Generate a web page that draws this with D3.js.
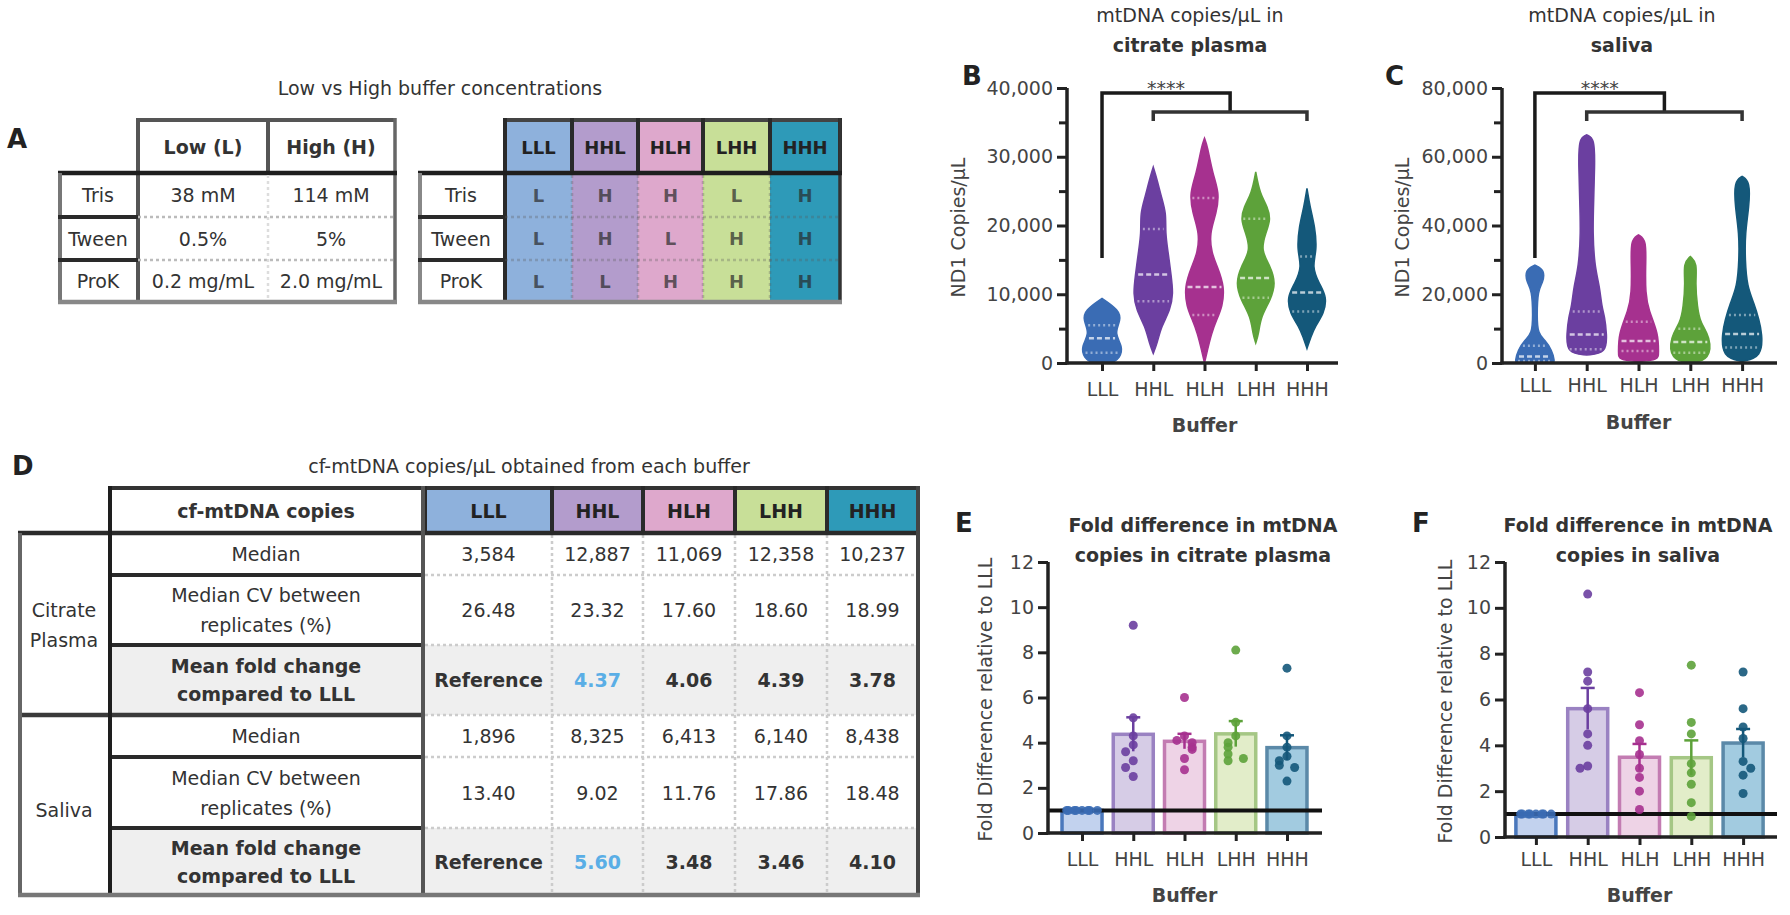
<!DOCTYPE html>
<html><head><meta charset="utf-8">
<script src="https://cdn.jsdelivr.net/npm/d3@7"></script>
<style>
body{margin:0;background:#fff}
svg{display:block}
text{font-family:"DejaVu Sans",sans-serif;fill:#333}
</style>
</head><body>
<svg id="fig" width="1790" height="915"></svg>
<script>
// ---------------- DATA ----------------
const buffers = ["LLL","HHL","HLH","LHH","HHH"];
const components = ["Tris","Tween","ProK"];
const lowConc = ["38 mM","0.5%","0.2 mg/mL"];
const highConc = ["114 mM","5%","2.0 mg/mL"];
const trisLevel = ["L","H","H","L","H"];
const tweenLevel = ["L","H","L","H","H"];
const prokLevel = ["L","L","H","H","H"];

const plasmaTicks = [0,10000,20000,30000,40000];
const plasmaMinor = [5000,15000,25000,35000];
const salivaTicks = [0,20000,40000,60000,80000];
const salivaMinor = [10000,30000,50000,70000];
const foldTicks = [0,2,4,6,8,10,12];

// violin outlines: [copies/µL, relative width]
const plasmaViolin = [
  [[0,0.5],[700,0.9],[2400,1.05],[4300,0.6],[6250,0.95],[7700,0.85],[9400,0]],
  [[1400,0],[2900,0.2],[5300,0.4],[7700,0.85],[10100,1.0],[12600,0.9],[16000,0.75],[18900,0.6],[21800,0.65],[24200,0.4],[26600,0.2],[28500,0]],
  [[0,0],[1900,0.15],[4300,0.35],[6250,0.6],[8200,0.9],[11100,1.0],[14000,0.65],[16000,0.35],[18900,0.25],[21800,0.6],[24700,0.75],[27600,0.4],[31500,0.15],[32700,0]],
  [[2900,0],[4300,0.15],[6700,0.25],[9200,0.75],[11600,1.0],[14000,0.75],[16400,0.25],[18900,0.5],[20800,0.75],[22700,0.6],[24700,0.2],[27800,0]],
  [[2100,0],[3800,0.2],[5300,0.4],[7200,0.85],[9600,1.0],[11600,0.6],[14000,0.25],[16400,0.5],[19800,0.4],[22700,0.15],[25400,0]]
];
const salivaViolin = [
  [[0,0.9],[400,1.0],[3800,0.85],[6700,0.5],[8600,0.15],[13500,0.1],[21300,0.15],[23200,0.4],[27100,0.5],[28500,0]],
  [[2300,0],[2800,1.0],[8600,1.0],[13500,0.9],[16400,0.75],[22200,0.65],[28100,0.4],[37800,0.3],[47500,0.35],[57200,0.4],[65400,0.4],[66400,0]],
  [[400,0],[900,1.0],[2800,1.0],[8600,1.0],[15400,0.5],[20300,0.35],[28100,0.35],[35800,0.4],[37300,0]],
  [[0,0],[900,1.0],[7700,1.0],[11600,0.5],[16400,0.35],[23200,0.25],[29000,0.35],[31000,0]],
  [[400,0],[1800,1.0],[8600,1.0],[12500,0.85],[17400,0.6],[22200,0.25],[30000,0.15],[37800,0.15],[45500,0.35],[52800,0.4],[54300,0]]
];
const plasmaMedian = [3584,12887,11069,12358,10237];
const plasmaQ1 = [1500,9000,7000,9500,7500];
const plasmaQ3 = [5500,19500,24000,21000,15500];
const salivaMedian = [1896,8325,6413,6140,8438];
const salivaQ1 = [600,4000,3500,3000,4500];
const salivaQ3 = [5000,15000,12000,10000,14000];
const plasmaCV = [26.48,23.32,17.60,18.60,18.99];
const salivaCV = [13.40,9.02,11.76,17.86,18.48];
const plasmaFold = [1,4.37,4.06,4.39,3.78];
const salivaFold = [1,5.60,3.48,3.46,4.10];
const plasmaFoldPoints = [
  [1,1,1,1,1,1,1,1],
  [9.2,5.1,4.3,3.9,3.6,3.2,2.9,2.5],
  [6.0,4.3,4.1,4.0,3.8,3.7,3.3,2.8],
  [8.1,4.9,4.3,4.0,3.8,3.5,3.2,3.3],
  [7.3,4.3,3.8,3.4,3.2,3.0,2.9,2.3]
];
const salivaFoldPoints = [
  [1,1,1,1,1,1,1,1],
  [10.6,7.2,6.8,5.6,4.5,4.0,3.1,3.0],
  [6.3,4.9,4.2,3.6,3.0,2.6,2.0,1.2],
  [7.5,5.0,4.5,3.2,2.8,2.3,1.5,0.9],
  [7.2,5.6,4.8,4.3,3.3,2.7,3.0,1.9]
];
const sigLabel = "****";

// ---------------- STYLE ----------------
const headerFill = ["#8eb1dc","#b39ccc","#dea8cc","#c8df98","#2e9ab8"];
const markColor  = ["#3a6cb4","#6b3fa0","#a6318f","#5da23a","#14587a"];
const barFill    = ["#c2d2ee","#d6cce6","#eed3e6","#e2edc9","#a2cbe0"];
const barStroke  = ["#4a78bc","#9a82c2","#c37cb2","#a5c785","#5b89a8"];
const FS = 19;

const svg = d3.select("#fig");
svg.append("rect").attr("width",1790).attr("height",915).attr("fill","#fff");

function ln(g,x1,y1,x2,y2,stroke,w,dash){
  const l=g.append("line").attr("x1",x1).attr("y1",y1).attr("x2",x2).attr("y2",y2)
    .attr("stroke",stroke).attr("stroke-width",w);
  if(dash) l.attr("stroke-dasharray",dash);
  return l;
}
function tx(g,x,y,s,o={}){
  return g.append("text").attr("x",x).attr("y",y).text(s)
    .attr("text-anchor",o.anchor||"middle")
    .attr("dominant-baseline",o.base||"central")
    .attr("font-size",o.size||FS)
    .attr("font-weight",o.bold?"bold":"normal")
    .style("fill",o.fill||"#333");
}
function letter(x,y,s){ tx(svg,x,y,s,{anchor:"start",base:"alphabetic",size:26,bold:true,fill:"#222"}); }

// ---------------- PANEL A ----------------
letter(7,148,"A");
tx(svg,440,88,"Low vs High buffer concentrations");
{
  const g=svg.append("g");
  const rowY=[173,217,260,302];
  // left table
  ln(g,138,120,395,120,"#555",4);
  ln(g,138,118,138,302,"#555",4);
  ln(g,268,120,268,173,"#555",4);
  ln(g,395,118,395,304,"#666",3.5);
  ln(g,58,173,397,173,"#1e1e1e",4.5);
  ln(g,60,173,60,302,"#777",4);
  [217,260].forEach(y=>{ ln(g,58,y,138,y,"#2a2a2a",4); ln(g,138,y,395,y,"#bbb",2.5,"3,3"); });
  ln(g,268,175,268,300,"#ddd",2.5,"3,3");
  ln(g,58,302,397,302,"#888",4.5);
  tx(g,203,147,"Low (L)",{bold:true});
  tx(g,331,147,"High (H)",{bold:true});
  components.forEach((c,i)=>{
    const cy=(rowY[i]+rowY[i+1])/2;
    tx(g,98,cy,c);
    tx(g,203,cy,lowConc[i]);
    tx(g,331,cy,highConc[i]);
  });
  // right table
  const edges=[505,572,638,703,770,840];
  const levels=[trisLevel,tweenLevel,prokLevel];
  buffers.forEach((b,j)=>{
    g.append("rect").attr("x",edges[j]).attr("y",120).attr("width",edges[j+1]-edges[j]).attr("height",182)
      .attr("fill",headerFill[j]);
  });
  ln(g,505,120,840,120,"#444",4);
  edges.forEach(e=>ln(g,e,118,e,173,"#2a2a2a",4));
  edges.slice(1,-1).forEach(e=>ln(g,e,175,e,300,"rgba(90,90,90,0.3)",2.5,"3,3"));
  ln(g,505,173,505,302,"#2a2a2a",4);
  ln(g,840,118,840,304,"#333",3.5);
  ln(g,418,173,842,173,"#1e1e1e",4.5);
  ln(g,420,173,420,302,"#888",4);
  [217,260].forEach(y=>{ ln(g,418,y,505,y,"#2a2a2a",4); ln(g,505,y,840,y,"rgba(90,90,90,0.3)",2.5,"3,3"); });
  ln(g,418,302,842,302,"#888",4.5);
  buffers.forEach((b,j)=>{
    const cx=(edges[j]+edges[j+1])/2;
    tx(g,cx,147,b,{bold:true,fill:"#222",size:18});
    levels.forEach((lv,i)=>tx(g,cx,(rowY[i]+rowY[i+1])/2,lv[j],{bold:true,fill:"rgba(40,40,40,0.7)",size:18}));
  });
  components.forEach((c,i)=>tx(g,461,(rowY[i]+rowY[i+1])/2,c));
}

// ---------------- PANEL D ----------------
letter(12,475,"D");
tx(svg,529,466,"cf-mtDNA copies/\u03bcL obtained from each buffer");
{
  const g=svg.append("g");
  const edges=[425,552,643,735,827,918];
  const rows=[533,575,645,715,757,828,895];
  // fold rows background
  [[645,715],[828,895]].forEach(r=>g.append("rect").attr("x",110).attr("y",r[0]).attr("width",808).attr("height",r[1]-r[0]).attr("fill","#efefef"));
  buffers.forEach((b,j)=>g.append("rect").attr("x",edges[j]).attr("y",488).attr("width",edges[j+1]-edges[j]).attr("height",45).attr("fill",headerFill[j]));
  ln(g,108,488,920,488,"#333",4);
  edges.forEach(e=>ln(g,e,486,e,533,"#2a2a2a",4));
  edges.slice(1,-1).forEach(e=>ln(g,e,535,e,893,"#ccc",2.5,"3,3"));
  [575,645,757,828].forEach(y=>{ ln(g,110,y,423,y,"#2a2a2a",4); ln(g,425,y,918,y,"#ccc",2.5,"3,3"); });
  ln(g,18,715,423,715,"#3a3a3a",4.5); ln(g,425,715,918,715,"#ccc",2.5,"3,3");
  ln(g,18,533,920,533,"#2a2a2a",4.5);
  ln(g,20,533,20,895,"#666",4);
  ln(g,110,486,110,895,"#1e1e1e",4);
  ln(g,423,486,423,895,"#555",4);
  ln(g,918,486,918,897,"#444",4);
  ln(g,18,895,920,895,"#777",4.5);
  tx(g,266,511,"cf-mtDNA copies",{bold:true});
  buffers.forEach((b,j)=>tx(g,(edges[j]+edges[j+1])/2,511,b,{bold:true,fill:"#222"}));
  tx(g,64,610,"Citrate"); tx(g,64,640,"Plasma");
  tx(g,64,810,"Saliva");
  const groups=[[plasmaMedian,plasmaCV,plasmaFold,0],[salivaMedian,salivaCV,salivaFold,3]];
  groups.forEach(([med,cv,fold,k])=>{
    const r0=rows[k],r1=rows[k+1],r2=rows[k+2],r3=rows[k+3];
    tx(g,266,(r0+r1)/2,"Median");
    tx(g,266,(r1+r2)/2-15,"Median CV between");
    tx(g,266,(r1+r2)/2+15,"replicates (%)");
    tx(g,266,(r2+r3)/2-14,"Mean fold change",{bold:true});
    tx(g,266,(r2+r3)/2+14,"compared to LLL",{bold:true});
    buffers.forEach((b,j)=>{
      const cx=(edges[j]+edges[j+1])/2;
      tx(g,cx,(r0+r1)/2,d3.format(",")(med[j]));
      tx(g,cx,(r1+r2)/2,cv[j].toFixed(2));
      tx(g,cx,(r2+r3)/2,j===0?"Reference":fold[j].toFixed(2),{bold:true,fill:j===1?"#5aaee6":"#333"});
    });
  });
}

// ---------------- CHART HELPERS ----------------
function axes(g,cfg,x,y){
  const ya=g.append("g").attr("transform",`translate(${cfg.ax},0)`)
    .call(d3.axisLeft(y).tickValues(cfg.ticks).tickSize(10).tickSizeOuter(0).tickPadding(4).tickFormat(d3.format(",")));
  ya.select(".domain").remove();
  ya.selectAll("line").attr("stroke","#222").attr("stroke-width",3);
  ya.selectAll("text").attr("font-size",FS).style("fill","#444").attr("font-family","DejaVu Sans");
  if(cfg.minor){
    const ym=g.append("g").attr("transform",`translate(${cfg.ax},0)`)
      .call(d3.axisLeft(y).tickValues(cfg.minor).tickSize(8).tickFormat(""));
    ym.select(".domain").remove();
    ym.selectAll("line").attr("stroke","#222").attr("stroke-width",3);
  }
  const y0=y.range()[0];
  ln(g,cfg.ax,y.range()[1],cfg.ax,y0+1.5,"#222",3.5);
  const xa=g.append("g").attr("transform",`translate(0,${y0})`)
    .call(d3.axisBottom(x).tickSize(8).tickSizeOuter(0).tickPadding(cfg.pad));
  xa.select(".domain").remove();
  xa.selectAll("line").attr("stroke","#222").attr("stroke-width",3);
  xa.selectAll("text").attr("font-size",FS).style("fill","#444").attr("font-family","DejaVu Sans");
  ln(g,cfg.ax-1.5,y0,cfg.axEnd,y0,"#222",3.5);
  const mid=(x.range()[0]+x.range()[1])/2;
  tx(g,mid,cfg.xTitleY,"Buffer",{bold:true,fill:"#444"});
  tx(g,0,0,cfg.yTitle,{fill:"#444"}).attr("transform",`translate(${cfg.yTitleX},${(y.range()[0]+y.range()[1])/2+2}) rotate(-90)`);
  cfg.title.forEach((t,i)=>tx(g,cfg.titleX,cfg.titleY+i*30,t,{bold:cfg.titleBold[i]}));
}
function widthAt(prof,v){
  for(let i=0;i<prof.length-1;i++){
    const a=prof[i],b=prof[i+1];
    if(v>=a[0]&&v<=b[0]) return a[1]+(b[1]-a[1])*(v-a[0])/(b[0]-a[0]);
  }
  return 0;
}
function violinPanel(cfg){
  const g=svg.append("g");
  const x=d3.scalePoint().domain(buffers).range(cfg.xr).padding(0.5);
  const y=d3.scaleLinear().domain(cfg.domain).range(cfg.yr);
  const W=20;
  buffers.forEach((b,j)=>{
    const cx=x(b), prof=cfg.prof[j];
    const area=d3.area().curve(d3.curveBasis)
      .y(d=>y(d[0])).x0(d=>cx-d[1]*W).x1(d=>cx+d[1]*W);
    g.append("path").attr("d",area(prof)).attr("fill",markColor[j]).attr("stroke",markColor[j]).attr("stroke-width",1.5);
    const mk=(v,dash,op)=>{const w=widthAt(prof,v)*W*0.85; ln(g,cx-w,y(v),cx+w,y(v),`rgba(255,255,255,${op})`,2.5,dash);};
    mk(cfg.q1[j],"2,3",0.45); mk(cfg.q3[j],"2,3",0.45); mk(cfg.med[j],"5,3",0.7);
  });
  axes(g,cfg,x,y);
  // significance bracket
  const xl=x(buffers[0]), xa=x(buffers[1]), xb=x(buffers[4]), xj=(xa+xb)/2;
  const top=cfg.yr[1]+5, grp=cfg.yr[1]+24;
  g.append("path").attr("d",`M${xl},${cfg.yr[1]+170}V${top}H${xj}V${grp}`).attr("fill","none").attr("stroke","#1a1a1a").attr("stroke-width",3.5);
  g.append("path").attr("d",`M${xa},${grp+9}V${grp}H${xb}V${grp+9}`).attr("fill","none").attr("stroke","#333").attr("stroke-width",3.5);
  tx(g,(xl+xj)/2,top+2,sigLabel,{base:"alphabetic",fill:"#444"});
}
function dodge(vals,y,r,maxOff){
  const placed=[];
  return vals.map(v=>{
    const py=y(v);
    let k=placed.filter(p=>Math.abs(p-py)<r*1.8).length;
    placed.push(py);
    let off=k===0?0:(k%2?-1:1)*Math.ceil(k/2)*r*1.7;
    if(Math.abs(off)>maxOff) off=Math.sign(off)*((Math.abs(off)-1)%maxOff);
    return off;
  });
}
function barPanel(cfg){
  const g=svg.append("g");
  const x=d3.scalePoint().domain(buffers).range(cfg.xr).padding(0.5);
  const y=d3.scaleLinear().domain(cfg.domain).range(cfg.yr);
  const bw=40;
  buffers.forEach((b,j)=>{
    const cx=x(b);
    g.append("rect").attr("x",cx-bw/2).attr("y",y(cfg.fold[j])).attr("width",bw).attr("height",y(0)-y(cfg.fold[j]))
      .attr("fill",barFill[j]).attr("stroke",barStroke[j]).attr("stroke-width",3.5);
  });
  // reference line at 1
  ln(g,cfg.ax,y(1),cfg.axEnd,y(1),"#111",4);
  buffers.forEach((b,j)=>{
    const cx=x(b), pts=cfg.pts[j];
    const sem=pts.length>1&&d3.deviation(pts)>0?d3.deviation(pts)/Math.sqrt(pts.length):0;
    if(sem>0){
      ln(g,cx,y(cfg.fold[j]-sem),cx,y(cfg.fold[j]+sem),markColor[j],2.5);
      ln(g,cx-7,y(cfg.fold[j]+sem),cx+7,y(cfg.fold[j]+sem),markColor[j],2.5);
    }
    const offs=dodge(pts,y,4.5,16);
    pts.forEach((v,i)=>g.append("circle").attr("cx",cx+offs[i]).attr("cy",y(v)).attr("r",4.5).attr("fill",markColor[j]).attr("opacity",0.9));
  });
  axes(g,cfg,x,y);
}

// ---------------- PANELS B, C ----------------
letter(962,85,"B");
violinPanel({ax:1067,axEnd:1338,xr:[1076.4,1332.6],yr:[363,88],domain:[0,40000],ticks:plasmaTicks,minor:plasmaMinor,
  prof:plasmaViolin,med:plasmaMedian,q1:plasmaQ1,q3:plasmaQ3,pad:12,xTitleY:425,yTitle:"ND1 Copies/\u03bcL",yTitleX:958,
  title:["mtDNA copies/\u03bcL in","citrate plasma"],titleBold:[false,true],titleX:1190,titleY:15});
letter(1385,85,"C");
violinPanel({ax:1502,axEnd:1777,xr:[1509,1768],yr:[363,88],domain:[0,80000],ticks:salivaTicks,minor:salivaMinor,
  prof:salivaViolin,med:salivaMedian,q1:salivaQ1,q3:salivaQ3,pad:8,xTitleY:422,yTitle:"ND1 Copies/\u03bcL",yTitleX:1402,
  title:["mtDNA copies/\u03bcL in","saliva"],titleBold:[false,true],titleX:1622,titleY:15});

// ---------------- PANELS E, F ----------------
letter(955,532,"E");
barPanel({ax:1048,axEnd:1322,xr:[1056.4,1312.6],yr:[833,562],domain:[0,12],ticks:foldTicks,minor:null,
  fold:plasmaFold,pts:plasmaFoldPoints,pad:12,xTitleY:895,yTitle:"Fold Difference relative to LLL",yTitleX:985,
  title:["Fold difference in mtDNA","copies in citrate plasma"],titleBold:[true,true],titleX:1203,titleY:525});
letter(1412,532,"F");
barPanel({ax:1505,axEnd:1777,xr:[1510,1769],yr:[837,562],domain:[0,12],ticks:foldTicks,minor:null,
  fold:salivaFold,pts:salivaFoldPoints,pad:8,xTitleY:895,yTitle:"Fold Difference relative to LLL",yTitleX:1445,
  title:["Fold difference in mtDNA","copies in saliva"],titleBold:[true,true],titleX:1638,titleY:525});
</script>
</body></html>
